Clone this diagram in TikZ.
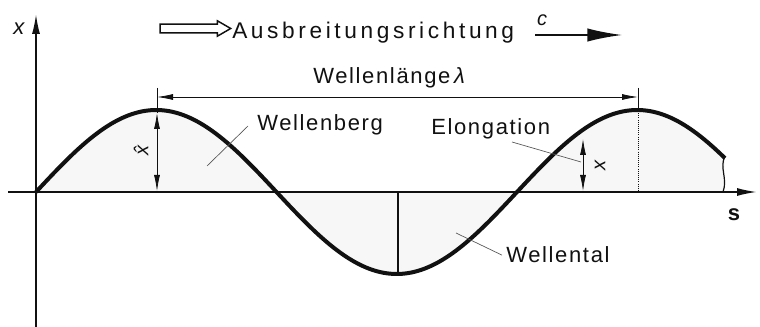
\documentclass[tikz,border=0pt]{standalone}
\usepackage{fontspec}
\setmainfont{Liberation Sans}
\newfontfamily\dinfont[LetterSpace=7.5]{Liberation Sans}
\newfontfamily\dintitle[LetterSpace=16]{Liberation Sans}
\usetikzlibrary{arrows.meta,shapes.arrows}
\definecolor{inkcolor}{HTML}{111111}
\definecolor{leadcolor}{HTML}{555555}
\definecolor{wavefill}{HTML}{F7F7F7}
\tikzset{
  axis/.style={draw=inkcolor, line width=1.3pt, -{Latex[length=15pt,width=6pt]}},
  wave/.style={draw=inkcolor, line width=3pt, line join=round},
  dimline/.style={draw=inkcolor, line width=0.6pt},
  dimboth/.style={dimline, {Latex[length=12pt,width=4.5pt]}-{Latex[length=12pt,width=4.5pt]}},
  leader/.style={draw=leadcolor, line width=0.5pt},
  label/.style={font=\dinfont\fontsize{16.5pt}{18pt}\selectfont, text=inkcolor, inner sep=0pt},
  titlelabel/.style={font=\dintitle\fontsize{17pt}{19pt}\selectfont, text=inkcolor, inner sep=0pt},
  hollowarrow/.style={single arrow, draw=inkcolor, line width=1.1pt, fill=white,
    minimum height=53pt, inner xsep=0pt, inner ysep=2.8pt,
    single arrow head extend=2.4pt, single arrow tip angle=60}
}

\begin{document}
\begin{tikzpicture}[x=0.75pt,y=-0.75pt]
  \useasboundingbox[fill=white] (0,0) rectangle (760,327);

  % Key points of the wave.
  \coordinate (origin) at (36,192);
  \coordinate (yfoot) at (36,327);
  \coordinate (ytip) at (36,14);
  \coordinate (sfoot) at (8,192);
  \coordinate (stip) at (757,192);
  \coordinate (tickA) at (157,88);
  \coordinate (crestA) at (157,113);
  \coordinate (baseA) at (157,191);
  \coordinate (tickB) at (638,88);
  \coordinate (crestB) at (638,111);
  \coordinate (baseB) at (638,192);
  \coordinate (lamA) at (157,97);
  \coordinate (lamB) at (638,97);
  \coordinate (troughfoot) at (398,274);
  \coordinate (troughtop) at (398,192);
  \coordinate (elTop) at (583,139);
  \coordinate (elBase) at (583,191);
  \coordinate (waveend) at (725,156);
  \coordinate (breakfoot) at (723,192);

  % Shaded wave area.
  \fill[wavefill] plot[domain=36:725, samples=120, smooth] (\x,{192-82*sin((\x-36)/481*360)})
    -- (breakfoot) -- (origin) -- cycle;

  % Axes.
  \draw[axis] (yfoot) -- (ytip);
  \draw[axis] (sfoot) -- (stip);

  % Helper lines.
  \draw[dimline] (tickA) -- (crestA);
  \draw[dimline] (tickB) -- (crestB);
  \draw[dimline, densely dotted] (crestB) -- (baseB);
  \draw[draw=inkcolor, line width=1.4pt] (troughtop) -- (troughfoot);
  \draw[dimline, line width=0.9pt] (waveend) .. controls (719,168) and (728,178) .. (breakfoot);

  % The wave.
  \draw[wave] plot[domain=36:725, samples=120, smooth] (\x,{192-82*sin((\x-36)/481*360)});

  % Dimensions.
  \draw[dimboth] (lamA) -- (lamB);
  \draw[dimboth] (crestA) -- (baseA);
  \draw[dimboth] (elTop) -- (elBase);

  % Heading.
  \node[hollowarrow] (flowarrow) at (191.5,28.5) {};
  \node[titlelabel, anchor=base west] (heading) at (232,39) {Ausbreitungsrichtung};
  \coordinate (cstart) at (535,35);
  \coordinate (cend) at (622,35);
  \draw[draw=inkcolor, line width=1.2pt, -{Latex[length=26pt,width=10pt]}] (cstart) -- (cend);
  \node[label, font=\dinfont\itshape\fontsize{15pt}{17pt}\selectfont] (clabel) at (542,20) {c};

  % Labels.
  \node[label, font=\dinfont\itshape\fontsize{16.5pt}{18pt}\selectfont] (xlabel) at (19,29) {x};
  \node[label, font=\dinfont\bfseries\fontsize{16.5pt}{18pt}\selectfont] (slabel) at (734,215) {s};
  \node[label, anchor=base west] (wavelength) at (313,84) {Wellenlänge\,{\itshape λ}};
  \node[label, anchor=base west] (wellenberg) at (257,131) {Wellenberg};
  \node[label, anchor=base west] (elongation) at (431,135) {Elongation};
  \node[label, anchor=base west] (wellental) at (506,263) {Wellental};
  \node[label, rotate=90, font=\dinfont\itshape\fontsize{15pt}{17pt}\selectfont] (amplabel) at (141,151) {\^{x}};
  \node[label, rotate=90, font=\dinfont\itshape\fontsize{15pt}{17pt}\selectfont] (elonglabel) at (600,166) {x};

  % Leader lines.
  \coordinate (wbfoot) at (207,166);
  \coordinate (wbhead) at (248,126);
  \coordinate (elfoot) at (581,162);
  \coordinate (elhead) at (512,142);
  \coordinate (wtfoot) at (456,233);
  \draw[leader] (wbfoot) -- (wbhead);
  \draw[leader] (elhead) -- (elfoot);
  \draw[leader] (wtfoot) -- ([xshift=-3pt]wellental.west);

\end{tikzpicture}
\end{document}
